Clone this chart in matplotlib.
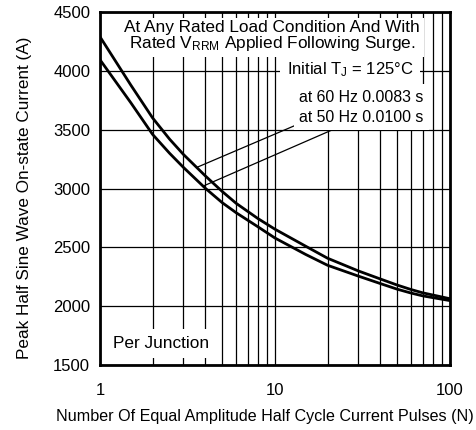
import matplotlib
matplotlib.use("Agg")
import matplotlib.pyplot as plt
from matplotlib.ticker import FixedLocator, NullFormatter

plt.rcParams['font.family'] = ['Liberation Sans', 'DejaVu Sans']
plt.rcParams['mathtext.fontset'] = 'custom'
plt.rcParams['mathtext.rm'] = 'Liberation Sans'
plt.rcParams['mathtext.it'] = 'Liberation Sans:italic'

# pulses N
pulses = [1, 1.5, 2, 2.5, 3, 4, 5, 6, 8, 10, 15, 20, 30, 40, 50, 60, 70, 100]
# 60 Hz 0.0083 s (upper curve)
current_60hz = [4290, 3880, 3600, 3420, 3290, 3108, 2975, 2875, 2745, 2655, 2510, 2408,
                2300, 2232, 2180, 2142, 2114, 2064]
# 50 Hz 0.0100 s (lower curve)
current_50hz = [4095, 3730, 3460, 3300, 3180, 3003, 2880, 2795, 2675, 2580, 2440, 2348,
                2256, 2193, 2145, 2112, 2088, 2048]

y_ticks = [1500, 2000, 2500, 3000, 3500, 4000, 4500]
x_ticks = [1, 10, 100]
x_tick_labels = ['1', '10', '100']

fig = plt.figure(figsize=(4.76, 4.30), dpi=100)
ax = fig.add_axes([0.210, 0.151, 0.735, 0.821])

ax.plot(pulses, current_60hz, color='black', lw=2.0, zorder=5, solid_joinstyle='round')
ax.plot(pulses, current_50hz, color='black', lw=2.0, zorder=5, solid_joinstyle='round')

ax.set_xscale('log')
ax.set_xlim(1, 100)
ax.set_ylim(1500, 4500)

ax.xaxis.set_major_locator(FixedLocator(x_ticks))
ax.set_xticklabels(x_tick_labels)
minor = [m * d for d in (1, 10) for m in range(2, 10)]
ax.xaxis.set_minor_locator(FixedLocator(minor))
ax.xaxis.set_minor_formatter(NullFormatter())
ax.set_yticks(y_ticks)

ax.grid(True, which='both', axis='x', color='black', lw=0.9, zorder=1)
ax.grid(True, which='major', axis='y', color='black', lw=0.9, zorder=1)
ax.set_axisbelow(True)

ax.tick_params(which='both', length=0, labelsize=12)
ax.tick_params(axis='x', pad=13)
ax.tick_params(axis='y', pad=7)

for s in ax.spines.values():
    s.set_linewidth(2.0)

ax.set_ylabel('Peak Half Sine Wave On-state Current (A)', fontsize=12.3)
ax.yaxis.set_label_coords(-0.194, 0.473)
ax.set_xlabel('Number Of Equal Amplitude Half Cycle Current Pulses (N)', fontsize=11.6)
ax.xaxis.set_label_coords(0.471, -0.125)

ax.text(0.491, 0.931, 'At Any Rated Load Condition And With\nRated V$_{\\mathrm{RRM}}$ Applied Following Surge.',
        transform=ax.transAxes, ha='center', va='center', multialignment='center', linespacing=0.95,
        fontsize=12.4, bbox=dict(facecolor='white', edgecolor='none', pad=3), zorder=3)
ax.text(0.534, 0.836, 'Initial T$_{\\mathrm{J}}$ = 125°C', transform=ax.transAxes,
        ha='left', va='center', fontsize=12, bbox=dict(facecolor='white', edgecolor='none', pad=5), zorder=3)

ax.annotate('at 60 Hz 0.0083 s', xy=(3.58, 3180), xytext=(13.8, 3777),
            ha='left', va='center', fontsize=11.4, bbox=dict(facecolor='white', edgecolor='none', pad=4),
            arrowprops=dict(arrowstyle='-', color='black', lw=0.9, shrinkA=0, shrinkB=0), zorder=3)
ax.annotate('at 50 Hz 0.0100 s', xy=(3.88, 3020), xytext=(13.8, 3607),
            ha='left', va='center', fontsize=11.4, bbox=dict(facecolor='white', edgecolor='none', pad=4),
            arrowprops=dict(arrowstyle='-', color='black', lw=0.9, shrinkA=0, shrinkB=0), zorder=3)

ax.text(0.037, 0.062, 'Per Junction', transform=ax.transAxes,
        ha='left', va='center', fontsize=12.4, bbox=dict(facecolor='white', edgecolor='none', pad=5), zorder=3)

fig.savefig('out.png', dpi=100)
